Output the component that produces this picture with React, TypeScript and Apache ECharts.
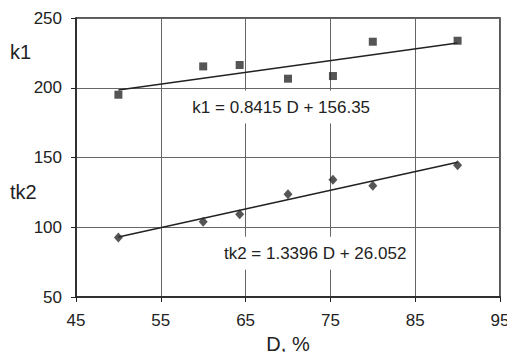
import React, { useEffect, useRef } from "react";
import * as echarts from "echarts";

const dValues = [50, 60, 64.3, 70, 75.3, 80, 90];
const k1Values = [195, 215.3, 216.3, 206.5, 208.4, 233, 233.7];
const tk2Values = [92.7, 103.9, 109.4, 123.7, 134, 129.7, 144.5];
const k1Fit = { slope: 0.8415, intercept: 156.35 };
const tk2Fit = { slope: 1.3396, intercept: 26.052 };
const fitRange = [50, 90];
const k1Equation = "k1 = 0.8415 D + 156.35";
const tk2Equation = "tk2 = 1.3396 D + 26.052";
const k1EquationAt = [69.2, 186.2];
const tk2EquationAt = [73.2, 81.4];
const xTicks = { min: 45, max: 95, interval: 10 };
const yTicks = { min: 50, max: 250, interval: 50 };

const FONT = "'Liberation Sans', Arial, sans-serif";
const INK = "#222";

export default function App() {
  const ref = useRef<HTMLDivElement>(null);
  useEffect(() => {
    document.body.style.margin = "0";
    if (!ref.current) return;
    const chart = echarts.init(ref.current, undefined, { renderer: "svg" });
    const fitLine = (f: { slope: number; intercept: number }) =>
      fitRange.map((x) => [x, f.slope * x + f.intercept]);
    const eqLabel = (text: string) => ({
      show: true,
      position: "inside",
      formatter: text,
      fontSize: 17,
      color: INK,
      fontFamily: FONT,
      backgroundColor: "#fff",
      padding: [8, 3],
    });
    chart.setOption({
      animation: false,
      backgroundColor: "#fff",
      textStyle: { fontFamily: FONT },
      grid: {
        left: 76,
        right: 7,
        top: 18,
        bottom: 55,
        containLabel: false,
        outerBoundsMode: "none",
        show: true,
        borderColor: INK,
        borderWidth: 1.5,
      },
      xAxis: {
        type: "value",
        min: xTicks.min,
        max: xTicks.max,
        interval: xTicks.interval,
        name: "D, %",
        nameLocation: "middle",
        nameGap: 37,
        nameTextStyle: { fontSize: 20, color: INK, fontFamily: FONT },
        axisLine: { show: true, lineStyle: { color: INK, width: 1.5 } },
        axisTick: { show: true, length: 5, lineStyle: { color: INK } },
        axisLabel: { fontSize: 17, color: INK, margin: 15, fontFamily: FONT },
        splitLine: { show: true, lineStyle: { color: "#666", width: 1 } },
      },
      yAxis: {
        type: "value",
        min: yTicks.min,
        max: yTicks.max,
        interval: yTicks.interval,
        axisLine: { show: true, lineStyle: { color: INK, width: 1.5 } },
        axisTick: { show: true, length: 5, lineStyle: { color: INK } },
        axisLabel: { fontSize: 17, color: INK, margin: 14, fontFamily: FONT },
        splitLine: { show: true, lineStyle: { color: "#666", width: 1 } },
      },
      graphic: [
        {
          type: "text",
          left: 10,
          top: 42,
          style: { text: "k1", fontSize: 20, fill: INK, fontFamily: FONT },
        },
        {
          type: "text",
          left: 10,
          top: 182,
          style: { text: "tk2", fontSize: 20, fill: INK, fontFamily: FONT },
        },
      ],
      series: [
        {
          type: "line",
          data: fitLine(k1Fit),
          symbol: "none",
          lineStyle: { color: INK, width: 1.5 },
          z: 3,
          markPoint: {
            symbol: "rect",
            symbolSize: 0,
            data: [{ coord: k1EquationAt }],
            label: eqLabel(k1Equation),
          },
        },
        {
          type: "line",
          data: fitLine(tk2Fit),
          symbol: "none",
          lineStyle: { color: INK, width: 1.5 },
          z: 3,
          markPoint: {
            symbol: "rect",
            symbolSize: 0,
            data: [{ coord: tk2EquationAt }],
            label: eqLabel(tk2Equation),
          },
        },
        {
          name: "k1",
          type: "scatter",
          data: dValues.map((d, i) => [d, k1Values[i]]),
          symbol: "rect",
          symbolSize: 8,
          itemStyle: { color: "#2a2a2a" },
          z: 4,
        },
        {
          name: "tk2",
          type: "scatter",
          data: dValues.map((d, i) => [d, tk2Values[i]]),
          symbol: "diamond",
          symbolSize: [9, 10],
          itemStyle: { color: "#2a2a2a" },
          z: 4,
        },
      ],
    });
    return () => chart.dispose();
  }, []);
  return <div ref={ref} style={{ width: 507, height: 352 }} />;
}
